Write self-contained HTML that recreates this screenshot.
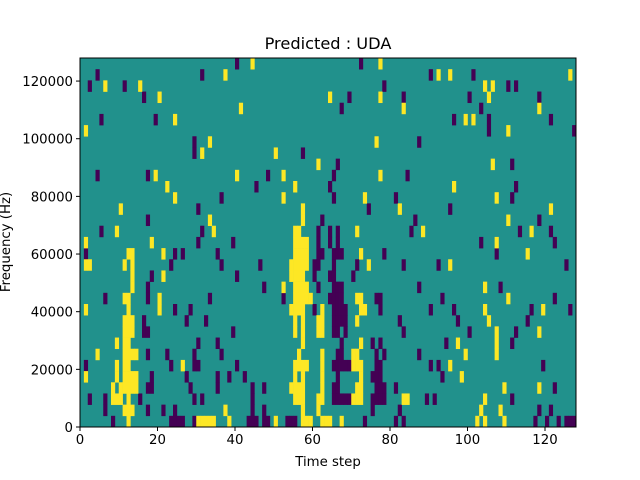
<!DOCTYPE html>
<html><head><meta charset="utf-8"><style>
html,body{margin:0;padding:0;background:#fff;}
svg{display:block;font-family:"DejaVu Sans","Liberation Sans",sans-serif;}
</style></head><body>
<svg id="chart" width="640" height="480" viewBox="0 0 640 480" xmlns="http://www.w3.org/2000/svg">
<rect x="0" y="0" width="640" height="480" fill="#fff"/>
<text x="328" y="49" font-size="16.2" text-anchor="middle">Predicted : UDA</text>
<g id="plot"></g>
<g id="axes"></g>
<text x="328" y="466" font-size="13.3" text-anchor="middle">Time step</text>
<text transform="translate(10,242) rotate(-90)" font-size="13.3" text-anchor="middle">Frequency (Hz)</text>
</svg>
<script>
// Data: time steps per frequency bin, listed from the top bin (index 0) to the bottom bin (index 32)
const numTimeSteps = 128;
const numFreqBins = 33;
const maxFreq = 128000;
const xTicks = [0, 20, 40, 60, 80, 100, 120];
const yTicks = [0, 20000, 40000, 60000, 80000, 100000, 120000];
const yTickLabels = ["0", "20000", "40000", "60000", "80000", "100000", "120000"];
const lowCells = [
[40,72],[4,31,90,101],[2,11,78,110,112],[16,69,83,100,118],[67,103],
[5,19,96,105,121],[105,127],[29,87],[29,57],[66,111],
[4,17,48,65,84],[45,64,112],[36,65,81,111],[30,74,95],[17,62,86,118],
[5,31,61,64,66,85,113,121],[30,39,61,64,66,103,122],
[1,24,26,35,61,62,65,66,67,78,107],[23,36,46,60,61,65,71,83,92,125],
[18,40,60,64,65,70],[17,47,61,65,66,67,87,108],
[6,17,33,52,64,65,66,67,76,77,93,122],[24,28,60,65,66,67,68,77,90,96,116,126],
[16,27,32,65,66,67,68,82,97,115],[16,17,39,65,66,68,83,100,112],
[30,35,67,75,77,94,111],[17,22,29,36,66,67,76,78,87],
[1,23,29,30,40,65,66,67,68,69,76,77,90,92,119],[18,27,35,38,42,66,75,76,77,93],
[17,18,28,35,44,47,65,66,76,77,78,81,122],
[2,6,15,29,31,44,65,66,67,68,69,75,76,77,78,89,91,111],
[6,17,21,24,44,47,75,82,118,121],
[8,23,24,25,26,29,43,44,45,47,48,53,54,55,73,81,83,117,120,123,125,126,127]
];
const highCells = [
[44,77],[37,92,95,126],[6,15,104,106],[20,64,77,105],[41,83,118],
[24,99,101],[1,110],[33,76],[31,50],[61,106],
[19,40,52,77],[22,55,96],[24,52,73,107],[10,57,82,121],[33,57,110],
[9,34,55,56,71,88,116],[1,18,55,56,57,58,107],
[12,13,21,55,56,57,58,72,115],[1,2,11,13,54,55,56,57,58,74,95],
[13,21,54,55,56,57],[13,52,55,56,57,58,104],
[11,12,20,55,56,57,58,59,71,72,110],[1,12,20,54,55,56,57,62,72,73,104,119],
[11,12,13,55,57,61,62,71,105],[11,12,13,55,57,61,62,107,118],
[9,11,12,57,72,97,107],[4,11,12,13,14,56,62,70,71,99,107],
[9,11,12,26,55,56,57,58,62,70,71,72,95],[1,9,11,12,13,14,55,57,62,72,98],
[8,10,11,12,13,14,54,55,56,57,62,71,72,109,118],
[8,9,10,12,55,56,57,61,62,70,71,72,83,84,104],
[11,12,13,37,57,61,103,108],
[12,30,31,32,33,34,38,50,57,58,59,62,63,64,67,102,104,109]
];

const L = 80, R = 576, T = 58, B = 427;
const NS = "http://www.w3.org/2000/svg";
function xScale(t){ return L + (t / numTimeSteps) * (R - L); }
function yScale(f){ return B - (f / maxFreq) * (B - T); }
function binTop(i){ return yScale(maxFreq * (numFreqBins - i) / numFreqBins); }
function binBottom(i){ return yScale(maxFreq * (numFreqBins - i - 1) / numFreqBins); }
const plot = document.getElementById('plot');
const axes = document.getElementById('axes');
function mk(tag, attrs, parent){
  const e = document.createElementNS(NS, tag);
  for (const k in attrs) e.setAttribute(k, attrs[k]);
  parent.appendChild(e);
  return e;
}
const bg = mk('rect', {x:L, y:T, width:R-L, height:B-T, fill:'#21918c'}, plot);


function drawCells(rows, color, name){
  rows.forEach((steps, i) => {
    const y0 = binTop(i), y1 = binBottom(i);
    steps.forEach(t => {
      const r = mk('rect', {x:xScale(t), y:y0, width:xScale(t+1)-xScale(t)+0.3, height:y1-y0+0.3, fill:color}, plot);
      
      
    });
  });
}
drawCells(lowCells, '#440154', 'heatmap-cell-low');
drawCells(highCells, '#fde725', 'heatmap-cell-high');
const frame = mk('rect', {x:L, y:T, width:R-L, height:B-T, fill:'none', stroke:'#000', 'stroke-width':1}, axes);


xTicks.forEach(t => {
  const x = xScale(t);
  const tk = mk('line', {x1:x, y1:B, x2:x, y2:B+4, stroke:'#000'}, axes);
  
  
  const lb = mk('text', {x:x, y:B+17, 'font-size':13.3, 'text-anchor':'middle'}, axes);
  
  
  lb.textContent = String(t);
});
yTicks.forEach((f, i) => {
  const y = yScale(f);
  const tk = mk('line', {x1:L-4, y1:y, x2:L, y2:y, stroke:'#000'}, axes);
  
  
  const lb = mk('text', {x:L-7, y:y+5, 'font-size':13.3, 'text-anchor':'end'}, axes);
  
  
  lb.textContent = yTickLabels[i];
});
</script>
</body></html>
